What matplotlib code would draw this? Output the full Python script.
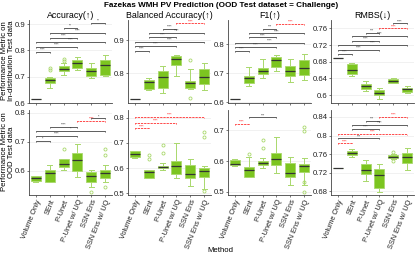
import matplotlib
matplotlib.use("Agg")
import matplotlib.pyplot as plt

plt.rcParams["font.family"] = ["Liberation Sans", "DejaVu Sans"]

methods = ["Volume Only", "SEnt", "P-Unet", "P-Unet w/ UQ", "SSN Ens", "SSN Ens w/ UQ"]
metrics = ["Accuracy(↑)", "Balanced Accuracy(↑)", "F1(↑)", "RMBS(↓)"]

# box stats per panel: median, q1, q3, whisker low, whisker high, outliers
acc_id_med = [0.6165, 0.686, 0.730, 0.754, 0.720, 0.746]
acc_id_q1 = [0.6165, 0.676, 0.723, 0.733, 0.704, 0.708]
acc_id_q3 = [0.6165, 0.695, 0.739, 0.765, 0.733, 0.765]
acc_id_lo = [0.6165, 0.657, 0.707, 0.727, 0.695, 0.704]
acc_id_hi = [0.6165, 0.700, 0.752, 0.775, 0.754, 0.784]
acc_id_out = [[], [0.725, 0.732], [0.760, 0.766], [], [], []]

bal_id_med = [0.721, 0.774, 0.788, 0.843, 0.769, 0.787]
bal_id_q1 = [0.721, 0.751, 0.754, 0.823, 0.754, 0.766]
bal_id_q3 = [0.721, 0.780, 0.805, 0.853, 0.777, 0.812]
bal_id_lo = [0.721, 0.749, 0.739, 0.790, 0.752, 0.749]
bal_id_hi = [0.721, 0.784, 0.822, 0.856, 0.812, 0.831]
bal_id_out = [[], [], [], [], [0.841, 0.725], []]

f1_id_med = [0.611, 0.683, 0.708, 0.745, 0.708, 0.720]
f1_id_q1 = [0.611, 0.666, 0.698, 0.723, 0.692, 0.694]
f1_id_q3 = [0.611, 0.691, 0.717, 0.755, 0.726, 0.746]
f1_id_lo = [0.611, 0.656, 0.683, 0.708, 0.669, 0.677]
f1_id_hi = [0.611, 0.721, 0.749, 0.762, 0.749, 0.766]
f1_id_out = [[], [], [], [], [], []]

rmbs_id_med = [0.689, 0.660, 0.622, 0.606, 0.634, 0.614]
rmbs_id_q1 = [0.689, 0.650, 0.614, 0.600, 0.630, 0.608]
rmbs_id_q3 = [0.689, 0.674, 0.626, 0.612, 0.638, 0.618]
rmbs_id_lo = [0.689, 0.646, 0.610, 0.590, 0.628, 0.604]
rmbs_id_hi = [0.689, 0.678, 0.634, 0.618, 0.640, 0.622]
rmbs_id_out = [[], [], [], [], [], []]

acc_ood_med = [0.574, 0.591, 0.623, 0.637, 0.583, 0.591]
acc_ood_q1 = [0.564, 0.562, 0.614, 0.600, 0.562, 0.574]
acc_ood_q3 = [0.580, 0.602, 0.639, 0.660, 0.597, 0.602]
acc_ood_lo = [0.562, 0.562, 0.602, 0.579, 0.545, 0.562]
acc_ood_hi = [0.583, 0.620, 0.639, 0.692, 0.602, 0.620]
acc_ood_out = [[], [], [0.675], [], [0.528], [0.675, 0.654, 0.545]]

bal_ood_med = [0.655, 0.583, 0.604, 0.610, 0.577, 0.587]
bal_ood_q1 = [0.643, 0.560, 0.600, 0.578, 0.560, 0.565]
bal_ood_q3 = [0.666, 0.591, 0.610, 0.629, 0.613, 0.600]
bal_ood_lo = [0.641, 0.560, 0.591, 0.560, 0.531, 0.518]
bal_ood_hi = [0.668, 0.591, 0.620, 0.699, 0.636, 0.609]
bal_ood_out = [[], [0.653, 0.635], [0.692, 0.659], [], [], [0.742, 0.722, 0.508]]

f1_ood_med = [0.592, 0.571, 0.595, 0.606, 0.560, 0.585]
f1_ood_q1 = [0.587, 0.549, 0.587, 0.587, 0.547, 0.565]
f1_ood_q3 = [0.605, 0.582, 0.601, 0.625, 0.594, 0.592]
f1_ood_lo = [0.585, 0.549, 0.578, 0.560, 0.522, 0.522]
f1_ood_hi = [0.607, 0.612, 0.609, 0.679, 0.612, 0.609]
f1_ood_out = [[], [0.623], [0.668, 0.641], [], [], [0.711, 0.697, 0.531, 0.500]]

rmbs_ood_med = [0.7306, 0.763, 0.726, 0.715, 0.754, 0.753]
rmbs_ood_q1 = [0.7306, 0.758, 0.718, 0.688, 0.751, 0.740]
rmbs_ood_q3 = [0.7306, 0.766, 0.738, 0.729, 0.758, 0.763]
rmbs_ood_lo = [0.7306, 0.754, 0.702, 0.679, 0.749, 0.726]
rmbs_ood_hi = [0.7306, 0.771, 0.747, 0.738, 0.760, 0.774]
rmbs_ood_out = [[], [], [], [], [0.765, 0.746], []]

# significance brackets: (group a, group b, y, label, worse?)
acc_id_sig = [(5, 6, 0.904, "**", 0), (3, 4, 0.885, "**", 0), (2, 6, 0.866, "****", 0),
              (2, 4, 0.849, "****", 0), (1, 6, 0.832, "****", 0), (1, 4, 0.815, "****", 0),
              (1, 2, 0.796, "****", 0)]
bal_id_sig = [(4, 6, 0.951, "****", 1), (3, 4, 0.935, "****", 0), (2, 6, 0.922, "****", 0),
              (2, 4, 0.909, "****", 0), (1, 6, 0.895, "****", 0), (1, 4, 0.882, "****", 0),
              (1, 2, 0.868, "****", 0)]
f1_id_sig = [(4, 6, 0.870, "****", 1), (3, 4, 0.853, "***", 0), (2, 6, 0.838, "****", 0),
             (2, 4, 0.824, "****", 0), (1, 6, 0.806, "****", 0), (1, 4, 0.792, "****", 0),
             (1, 2, 0.777, "****", 0)]
rmbs_id_sig = [(5, 6, 0.772, "****", 0), (4, 6, 0.760, "****", 1), (3, 4, 0.750, "***", 0),
               (2, 6, 0.742, "****", 0), (2, 4, 0.730, "****", 0), (1, 6, 0.720, "****", 0),
               (1, 4, 0.708, "****", 0), (1, 2, 0.698, "****", 0)]
acc_ood_sig = [(5, 6, 0.780, "*", 0), (4, 6, 0.771, "****", 1), (2, 4, 0.752, "****", 0),
               (1, 6, 0.737, "*", 0), (1, 4, 0.720, "****", 0), (1, 2, 0.703, "*", 0)]
bal_ood_sig = [(1, 6, 0.802, "****", 1), (1, 4, 0.778, "****", 1), (1, 2, 0.757, "****", 1)]
f1_ood_sig = [(2, 4, 0.742, "***", 0), (1, 2, 0.722, "****", 1)]
rmbs_ood_sig = [(4, 6, 0.840, "****", 1), (3, 4, 0.832, "***", 0), (2, 6, 0.823, "****", 0),
                (2, 4, 0.815, "****", 0), (1, 6, 0.803, "****", 1), (1, 4, 0.794, "***", 0),
                (1, 2, 0.783, "****", 1)]

panels = [
    (acc_id_med, acc_id_q1, acc_id_q3, acc_id_lo, acc_id_hi, acc_id_out, acc_id_sig),
    (bal_id_med, bal_id_q1, bal_id_q3, bal_id_lo, bal_id_hi, bal_id_out, bal_id_sig),
    (f1_id_med, f1_id_q1, f1_id_q3, f1_id_lo, f1_id_hi, f1_id_out, f1_id_sig),
    (rmbs_id_med, rmbs_id_q1, rmbs_id_q3, rmbs_id_lo, rmbs_id_hi, rmbs_id_out, rmbs_id_sig),
    (acc_ood_med, acc_ood_q1, acc_ood_q3, acc_ood_lo, acc_ood_hi, acc_ood_out, acc_ood_sig),
    (bal_ood_med, bal_ood_q1, bal_ood_q3, bal_ood_lo, bal_ood_hi, bal_ood_out, bal_ood_sig),
    (f1_ood_med, f1_ood_q1, f1_ood_q3, f1_ood_lo, f1_ood_hi, f1_ood_out, f1_ood_sig),
    (rmbs_ood_med, rmbs_ood_q1, rmbs_ood_q3, rmbs_ood_lo, rmbs_ood_hi, rmbs_ood_out, rmbs_ood_sig),
]

ylims = [(0.601, 0.916), (0.709, 0.961), (0.598, 0.884), (0.581, 0.780),
         (0.516, 0.809), (0.494, 0.830), (0.490, 0.766), (0.672, 0.855)]
yticks = [[0.6, 0.7, 0.8, 0.9], [0.8, 0.9], [0.6, 0.7, 0.8], [0.6, 0.64, 0.68, 0.72, 0.76],
          [0.6, 0.7, 0.8], [0.5, 0.6, 0.7, 0.8], [0.5, 0.6, 0.7], [0.68, 0.72, 0.76, 0.8, 0.84]]

FILL = "#7cc520"
LIGHT = "#a9d86c"
DARK = "#333333"
RED = "#ff1a1a"

fig = plt.figure(figsize=(4.15, 2.57), dpi=100)
lefts = [29 / 415, 128 / 415, 228 / 415, 331 / 415]
W = 83 / 415
rows = [(1 - 103 / 257, 83 / 257), (1 - 195 / 257, 85 / 257)]

for k, (med, q1, q3, lo, hi, out, sig) in enumerate(panels):
    r, c = divmod(k, 4)
    ax = fig.add_axes([lefts[c], rows[r][0], W, rows[r][1]])
    stats = []
    for i in range(6):
        stats.append(dict(med=med[i], q1=q1[i], q3=q3[i], whislo=lo[i], whishi=hi[i], fliers=out[i]))
    ax.bxp(stats, positions=range(1, 7), widths=0.72, patch_artist=True, showfliers=True,
           boxprops=dict(facecolor=FILL, edgecolor=LIGHT, linewidth=0.6),
           whiskerprops=dict(color=LIGHT, linewidth=0.7),
           capprops=dict(color=LIGHT, linewidth=0.7),
           medianprops=dict(color=DARK, linewidth=0.9),
           flierprops=dict(marker="o", markersize=2.2, markerfacecolor="none",
                           markeredgecolor=LIGHT, markeredgewidth=0.6),
           capwidths=0.36)
    lo_y, hi_y = ylims[k]
    tick = (hi_y - lo_y) * 0.012
    for a, b, y, lab, worse in sig:
        col = RED if worse else DARK
        ls = (0, (3, 1.2)) if worse else "-"
        ax.plot([a, a, b, b], [y - tick, y, y, y - tick], color=col, lw=0.55, ls=ls,
                solid_capstyle="butt")
        ax.text((a + b) / 2, y, lab, color=col, fontsize=2.6, ha="center", va="bottom")
    ax.set_xlim(0.5, 6.5)
    ax.set_ylim(lo_y, hi_y)
    ax.set_yticks(yticks[k])
    ax.set_yticklabels([f"{v:g}" for v in yticks[k]])
    ax.yaxis.grid(True, color="#ebebeb", lw=0.5)
    ax.set_axisbelow(True)
    for s in ["top", "right"]:
        ax.spines[s].set_visible(False)
    for s in ["left", "bottom"]:
        ax.spines[s].set_color("#444444")
        ax.spines[s].set_linewidth(0.6)
    ax.tick_params(axis="both", labelsize=5.6, length=1.5, width=0.5, pad=1, colors="#444444",
                   labelcolor="#222222")
    if r == 0:
        ax.set_xticklabels([])
        ax.set_title(metrics[c], fontsize=6.4, pad=1.5)
    else:
        ax.set_xticks(range(1, 7))
        ax.set_xticklabels(methods, rotation=68, ha="right", va="top", rotation_mode="anchor",
                           fontsize=5.3)

fig.text(0.533, 1 - 5.5 / 257, "Fazekas WMH PV Prediction (OOD Test dataset = Challenge)",
         fontsize=5.9, fontweight="bold", ha="center", va="center")
fig.text(0.02, 1 - 61 / 257, "Performance Metric on\nIn-distribution Test data", rotation=90,
         fontsize=5.6, ha="center", va="center", linespacing=1.0)
fig.text(0.02, 1 - 152 / 257, "Performance Metric on\nOOD Test data", rotation=90,
         fontsize=5.6, ha="center", va="center", linespacing=1.0)
fig.text(0.53, 0.025, "Method", fontsize=5.6, ha="center", va="center")

fig.savefig("out.png", dpi=100)
